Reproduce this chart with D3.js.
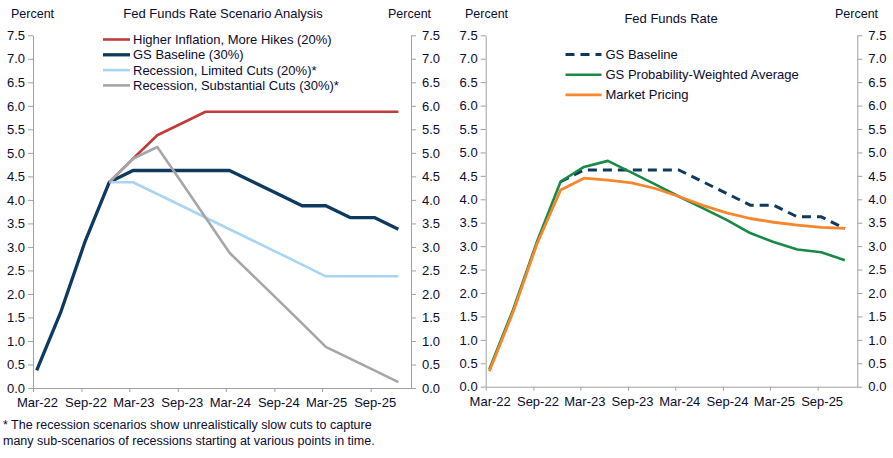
<!DOCTYPE html>
<html>
<head>
<meta charset="utf-8">
<script src="https://cdn.jsdelivr.net/npm/d3@7"></script>
<style>
  body { margin: 0; background: #fff; }
  svg text { font-family: "Liberation Sans", Arial, sans-serif; fill: #0a0a30; }
</style>
</head>
<body>
<div id="chart"></div>
<script>
// quarterly data points (mid-month of each quarter end)
const quarters = ["2022-03-15","2022-06-15","2022-09-15","2022-12-15",
                  "2023-03-15","2023-06-15","2023-09-15","2023-12-15",
                  "2024-03-15","2024-06-15","2024-09-15","2024-12-15",
                  "2025-03-15","2025-06-15","2025-09-15","2025-12-15"];

// left panel: scenarios
const gsBaseline      = [0.375,1.625,3.125,4.375,4.625,4.625,4.625,4.625,4.625,4.375,4.125,3.875,3.875,3.625,3.625,3.375];
const higherInflation = [null,null,null,4.375,4.875,5.375,5.625,5.875,5.875,5.875,5.875,5.875,5.875,5.875,5.875,5.875];
const limitedCuts     = [null,null,null,4.375,4.375,4.125,3.875,3.625,3.375,3.125,2.875,2.625,2.375,2.375,2.375,2.375];
const substantialCuts = [null,null,null,4.375,4.875,5.125,4.375,3.625,2.875,2.375,1.875,1.375,0.875,0.625,0.375,0.125];

// right panel
const baselineFcst  = [null,null,null,4.375,4.625,4.625,4.625,4.625,4.625,4.375,4.125,3.875,3.875,3.625,3.625,3.375];
const probWeighted  = [0.375,1.65,3.1,4.38,4.69,4.82,4.57,4.32,4.06,3.81,3.56,3.28,3.09,2.93,2.87,2.70];
const marketPricing = [0.33,1.6,3.05,4.2,4.45,4.41,4.35,4.23,4.06,3.87,3.71,3.59,3.51,3.45,3.40,3.38];

const xTickDates = ["2022-03-01","2022-09-01","2023-03-01","2023-09-01",
                    "2024-03-01","2024-09-01","2025-03-01","2025-09-01"];
const yTicks = d3.range(0, 7.51, 0.5);

const leftSeries = [
  {name: "Higher Inflation, More Hikes (20%)", values: higherInflation, color: "#c23b3a", width: 2.6},
  {name: "GS Baseline (30%)", values: gsBaseline, color: "#0d3a5e", width: 3.3},
  {name: "Recession, Limited Cuts (20%)*", values: limitedCuts, color: "#a9d4f2", width: 2.6},
  {name: "Recession, Substantial Cuts (30%)*", values: substantialCuts, color: "#a6a6a6", width: 2.6}
];
const rightSeries = [
  {name: "GS Baseline", values: baselineFcst, color: "#0d3a5e", width: 3, dash: "9,6"},
  {name: "GS Probability-Weighted Average", values: probWeighted, color: "#178a45", width: 2.6},
  {name: "Market Pricing", values: marketPricing, color: "#f7862c", width: 2.8}
];

const width = 893, height = 458;
const parse = d3.timeParse("%Y-%m-%d");
const dates = quarters.map(parse);

const svg = d3.select("#chart")
    .append("svg")
    .attr("width", width)
    .attr("height", height);

function drawPanel(p) {
    const x = d3.scaleTime()
        .domain([parse("2022-03-01"), parse("2026-02-01")])
        .range([p.x0, p.x1]);
    const y = d3.scaleLinear().domain([0, 7.5]).range([p.y0, p.y1]);

    const g = svg.append("g");

    // axes
    const axL = g.append("g").attr("transform", `translate(${p.x0},0)`)
        .call(d3.axisLeft(y).tickValues(yTicks).tickFormat(d3.format(".1f")).tickSize(5).tickPadding(3).tickSizeOuter(0));
    const axR = g.append("g").attr("transform", `translate(${p.x1},0)`)
        .call(d3.axisRight(y).tickValues(yTicks).tickFormat(d3.format(".1f")).tickSize(5).tickPadding(6).tickSizeOuter(0));
    const axB = g.append("g").attr("transform", `translate(0,${p.y0})`)
        .call(d3.axisBottom(x).tickValues(xTickDates.map(parse)).tickFormat(d3.timeFormat("%b-%y")).tickSize(4).tickPadding(6).tickSizeOuter(0));
    axB.selectAll("text").attr("dx", 4);

    [axL, axR, axB].forEach(a => {
        a.select(".domain").attr("stroke", "#a0a0a0");
        a.selectAll(".tick line").attr("stroke", "#a0a0a0");
        a.selectAll("text").attr("font-size", 13).style("fill", "#0a0a30");
    });

    const line = d3.line()
        .defined(d => d[1] != null)
        .x(d => x(d[0]))
        .y(d => y(d[1]));

    p.series.forEach(s => {
        g.append("path")
            .datum(dates.map((d, i) => [d, s.values[i]]))
            .attr("d", line)
            .attr("fill", "none")
            .attr("stroke", s.color)
            .attr("stroke-width", s.width)
            .attr("stroke-dasharray", s.dash || null)
            .attr("stroke-linejoin", "round");
    });

    // legend
    p.series.forEach((s, i) => {
        const ly = p.legY + i * p.legStep;
        g.append("line")
            .attr("x1", p.legX).attr("x2", p.legX + p.legLen)
            .attr("y1", ly).attr("y2", ly)
            .attr("stroke", s.color)
            .attr("stroke-width", s.width)
            .attr("stroke-dasharray", s.dash || null);
        g.append("text")
            .attr("x", p.legX + p.legLen + p.legGap)
            .attr("y", ly)
            .attr("dy", "0.35em")
            .attr("font-size", 13)
            .text(s.name);
    });

    // titles
    g.append("text").attr("x", p.titleX).attr("y", p.titleY).attr("text-anchor", "middle")
        .attr("font-size", 13).text(p.title);
    g.append("text").attr("x", p.pctL).attr("y", 18).attr("font-size", 12.5).text("Percent");
    g.append("text").attr("x", p.pctR).attr("y", 18).attr("font-size", 12.5).text("Percent");
}

drawPanel({
    x0: 33, x1: 411, y0: 388, y1: 35.3,
    series: leftSeries,
    legX: 103, legY: 39.5, legStep: 15.3, legLen: 27, legGap: 3,
    title: "Fed Funds Rate Scenario Analysis", titleX: 223, titleY: 18,
    pctL: 11, pctR: 388
});

drawPanel({
    x0: 485.7, x1: 857.3, y0: 386.7, y1: 35.3,
    series: rightSeries,
    legX: 565.5, legY: 54.5, legStep: 20.2, legLen: 36, legGap: 4,
    title: "Fed Funds Rate", titleX: 671, titleY: 23,
    pctL: 465, pctR: 835
});

// footnote
const footnote = ["* The recession scenarios show unrealistically slow cuts to capture",
                  "many sub-scenarios of recessions starting at various points in time."];
svg.selectAll(".foot")
    .data(footnote)
    .enter()
    .append("text")
    .attr("class", "foot")
    .attr("x", 3)
    .attr("y", (d, i) => 428.5 + i * 16.7)
    .attr("font-size", 12.5)
    .text(d => d);
</script>
</body>
</html>
